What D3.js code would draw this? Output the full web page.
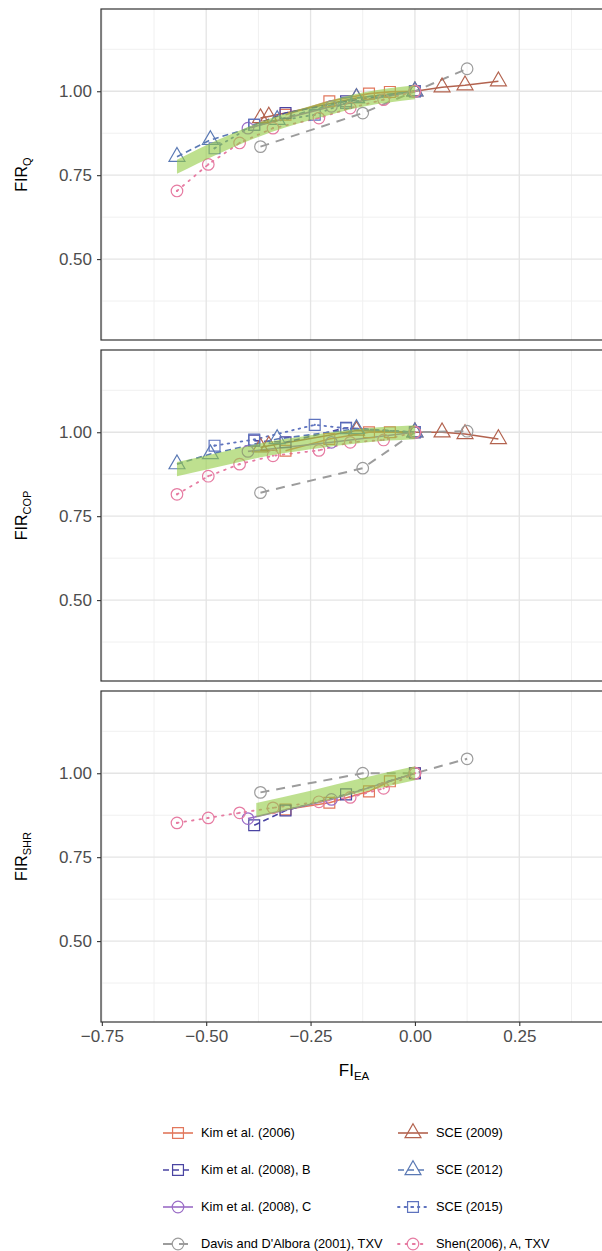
<!DOCTYPE html>
<html><head><meta charset="utf-8">
<script src="https://cdn.jsdelivr.net/npm/d3@7"></script>
<style>
body{margin:0;background:#fff}
svg{display:block;font-family:"Liberation Sans",Arial,Helvetica,sans-serif}
</style>
</head><body>
<svg id="c" width="602" height="1251"></svg>
<script>
// ---------------- DATA ----------------
const seriesNames = ["Kim et al. (2006)", "SCE (2009)", "Kim et al. (2008), B", "SCE (2012)",
  "Kim et al. (2008), C", "SCE (2015)", "Davis and D'Albora (2001), TXV", "Shen(2006), A, TXV"];
const panelSubs = ["Q", "COP", "SHR"];
const xTicks = [-0.75, -0.50, -0.25, 0.00, 0.25];
const yTicks = [0.50, 0.75, 1.00];

// FI_EA values for each series
const xKim2006  = [-0.31, -0.205, -0.11, -0.06, 0];
const xSCE2009  = [-0.37, -0.35, -0.14, 0, 0.065, 0.12, 0.20];
const xKim2008B = [-0.385, -0.31, -0.165, 0];
const xSCE2012  = [-0.57, -0.49, -0.33, -0.14, 0];
const xKim2008C = [-0.40, -0.20, 0];
const xSCE2015  = [-0.48, -0.385, -0.24, -0.165, 0];
const xDavis    = [-0.37, -0.125, 0, 0.125];
const xShen     = [-0.57, -0.495, -0.42, -0.34, -0.23, -0.155, -0.075, 0];

// FIR_Q
const qKim2006  = [0.93, 0.97, 0.993, 0.998, 1.0];
const qSCE2009  = [0.92, 0.925, 0.98, 1.0, 1.012, 1.018, 1.03];
const qKim2008B = [0.90, 0.935, 0.97, 1.0];
const qSCE2012  = [0.805, 0.855, 0.915, 0.98, 1.0];
const qKim2008C = [0.89, 0.955, 1.0];
const qSCE2015  = [0.83, 0.90, 0.93, 0.965, 1.0];
const qDavis    = [0.835, 0.935, 1.0, 1.067];
const qShen     = [0.703, 0.782, 0.846, 0.89, 0.92, 0.95, 0.975, 1.0];

// FIR_COP
const copKim2006  = [0.945, 0.98, 1.0, 1.0, 1.0];
const copSCE2009  = [0.955, 0.96, 1.005, 1.0, 1.0, 0.995, 0.98];
const copKim2008B = [0.975, 0.97, 1.013, 1.0];
const copSCE2012  = [0.905, 0.935, 0.98, 1.01, 1.0];
const copKim2008C = [0.943, 0.97, 1.0];
const copSCE2015  = [0.96, 0.978, 1.022, 1.012, 1.0];
const copDavis    = [0.82, 0.893, 1.0, 1.003];
const copShen     = [0.815, 0.869, 0.905, 0.93, 0.946, 0.97, 0.977, 1.0];

// FIR_SHR (SCE series not reported)
const shrKim2006  = [0.892, 0.912, 0.946, 0.976, 1.0];
const shrKim2008B = [0.845, 0.889, 0.937, 1.0];
const shrKim2008C = [0.865, 0.922, 1.0];
const shrDavis    = [0.943, 1.0, 1.0, 1.043];
const shrShen     = [0.852, 0.867, 0.882, 0.897, 0.915, 0.928, 0.955, 1.0];

// fitted trend band (centre line) per panel
const bandXQ   = [-0.57, -0.47, -0.375, -0.25, -0.125, 0];
const bandYQ   = [0.775, 0.835, 0.885, 0.935, 0.975, 0.997];
const bandXCOP = [-0.57, -0.47, -0.375, -0.25, -0.125, 0];
const bandYCOP = [0.89, 0.918, 0.945, 0.97, 0.99, 1.0];
const bandXSHR = [-0.38, -0.25, -0.125, 0];
const bandYSHR = [0.89, 0.927, 0.965, 1.0];
const bandHalf = 0.021;

// ---------------- STYLE ----------------
const styles = [
  {color:"#E2775C", dash:null,      shape:"square",    w:1.6},
  {color:"#B3634F", dash:null,      shape:"triangle",  w:1.6},
  {color:"#4A44A2", dash:"6,4",     shape:"square",    w:1.6},
  {color:"#5A79B4", dash:"6,4",     shape:"triangle",  w:1.6},
  {color:"#9A6CC6", dash:null,      shape:"circle",    w:1.6},
  {color:"#5E73BE", dash:"1.6,5",   shape:"squaredot", w:1.8},
  {color:"#9C9C9C", dash:"9,7",     shape:"circle",    w:2.0},
  {color:"#E67BA2", dash:"1.6,6",   shape:"circledot", w:1.8}
];

const seriesX = [xKim2006, xSCE2009, xKim2008B, xSCE2012, xKim2008C, xSCE2015, xDavis, xShen];
const seriesY = [
  [qKim2006, qSCE2009, qKim2008B, qSCE2012, qKim2008C, qSCE2015, qDavis, qShen],
  [copKim2006, copSCE2009, copKim2008B, copSCE2012, copKim2008C, copSCE2015, copDavis, copShen],
  [shrKim2006, null, shrKim2008B, null, shrKim2008C, null, shrDavis, shrShen]
];
const bands = [[bandXQ, bandYQ], [bandXCOP, bandYCOP], [bandXSHR, bandYSHR]];

// ---------------- LAYOUT ----------------
const svg = d3.select("#c");
const left = 101, right = 608;
const panels = [{top:9, bottom:340}, {top:350, bottom:681}, {top:691, bottom:1022}];
const x = d3.scaleLinear().domain([-0.752, 0.4625]).range([left, right]);
const tickCol = "#4d4d4d";

function symbolPath(shape) {
  if (shape === "triangle") return d3.symbol().type(d3.symbolTriangle).size(110)();
  if (shape.startsWith("square")) return d3.symbol().type(d3.symbolSquare).size(118)();
  return d3.symbol().type(d3.symbolCircle).size(105)();
}
function drawMarker(g, cx, cy, st) {
  g.append("path").attr("d", symbolPath(st.shape))
    .attr("transform", `translate(${cx},${cy})`)
    .attr("fill", "none").attr("stroke", st.color).attr("stroke-width", 1.2);
  if (st.shape.endsWith("dot")) {
    g.append("circle").attr("cx", cx).attr("cy", cy).attr("r", 1.1).attr("fill", st.color);
  }
}

panels.forEach((p, pi) => {
  const y = d3.scaleLinear().domain([0.259, 1.245]).range([p.bottom, p.top]);
  const g = svg.append("g");
  const clipId = "clip" + pi;
  svg.append("clipPath").attr("id", clipId).append("rect")
    .attr("x", left).attr("y", p.top).attr("width", right - left).attr("height", p.bottom - p.top);
  const inner = g.append("g").attr("clip-path", `url(#${clipId})`);

  // minor grid
  const xMinor = d3.range(-0.625, 0.46, 0.25);
  const yMinor = [0.375, 0.625, 0.875, 1.125];
  inner.selectAll(".xm").data(xMinor).join("line")
    .attr("x1", d => x(d)).attr("x2", d => x(d)).attr("y1", p.top).attr("y2", p.bottom)
    .attr("stroke", "#f0f0f0").attr("stroke-width", 1);
  inner.selectAll(".ym").data(yMinor).join("line")
    .attr("x1", left).attr("x2", right).attr("y1", d => y(d)).attr("y2", d => y(d))
    .attr("stroke", "#f0f0f0").attr("stroke-width", 1);
  // major grid
  inner.selectAll(".xM").data(xTicks).join("line")
    .attr("x1", d => x(d)).attr("x2", d => x(d)).attr("y1", p.top).attr("y2", p.bottom)
    .attr("stroke", "#e4e4e4").attr("stroke-width", 1.3);
  inner.selectAll(".yM").data(yTicks).join("line")
    .attr("x1", left).attr("x2", right).attr("y1", d => y(d)).attr("y2", d => y(d))
    .attr("stroke", "#e4e4e4").attr("stroke-width", 1.3);

  // series lines
  const line = d3.line().x(d => x(d[0])).y(d => y(d[1]));
  seriesX.forEach((xs, si) => {
    const ys = seriesY[pi][si];
    if (!ys) return;
    const pts = xs.map((v, i) => [v, ys[i]]);
    const st = styles[si];
    inner.append("path").attr("d", line(pts)).attr("fill", "none")
      .attr("stroke", st.color).attr("stroke-width", st.w)
      .attr("stroke-dasharray", st.dash).attr("stroke-linecap", st.dash && st.dash.startsWith("1.") ? "round" : "butt");
  });
  // points
  seriesX.forEach((xs, si) => {
    const ys = seriesY[pi][si];
    if (!ys) return;
    xs.forEach((v, i) => drawMarker(inner, x(v), y(ys[i]), styles[si]));
  });
  // trend band
  const [bx, by] = bands[pi];
  const bpts = bx.map((v, i) => [v, by[i]]);
  const area = d3.area().curve(d3.curveMonotoneX)
    .x(d => x(d[0])).y0(d => y(d[1] - bandHalf)).y1(d => y(d[1] + bandHalf));
  inner.append("path").attr("d", area(bpts)).attr("fill", "#92cc45").attr("opacity", 0.6);

  // border
  g.append("rect").attr("x", left).attr("y", p.top).attr("width", right - left).attr("height", p.bottom - p.top)
    .attr("fill", "none").attr("stroke", "#333").attr("stroke-width", 1.2);

  // y axis
  const ya = g.append("g").attr("transform", `translate(${left},0)`)
    .call(d3.axisLeft(y).tickValues(yTicks).tickFormat(d3.format(".2f")).tickSize(4).tickPadding(5));
  ya.select(".domain").remove();
  ya.selectAll("line").attr("stroke", "#333").attr("stroke-width", 1.1);
  ya.selectAll("text").attr("fill", tickCol).style("font-size", "17px").attr("font-family", null);

  // y title
  const t = g.append("text").attr("transform", `translate(27,${(p.top + p.bottom) / 2}) rotate(-90)`)
    .attr("text-anchor", "middle").style("font-size", "16px").attr("fill", "#000");
  t.append("tspan").text("FIR");
  t.append("tspan").text(panelSubs[pi]).style("font-size", "11px").attr("dy", 4);

  // x axis on last panel
  if (pi === panels.length - 1) {
    const xa = g.append("g").attr("transform", `translate(0,${p.bottom})`)
      .call(d3.axisBottom(x).tickValues(xTicks).tickFormat(d => d3.format(".2f")(d).replace("-", "\u2212")).tickSize(4).tickPadding(4));
    xa.select(".domain").remove();
    xa.selectAll("line").attr("stroke", "#333").attr("stroke-width", 1.1);
    xa.selectAll("text").attr("fill", tickCol).style("font-size", "17px").attr("font-family", null);
  }
});

// x title
const xt = svg.append("text").attr("x", 354).attr("y", 1076).attr("text-anchor", "middle")
  .style("font-size", "17px").attr("fill", "#000");
xt.append("tspan").text("FI");
xt.append("tspan").text("EA").style("font-size", "11.5px").attr("dy", 4);

// legend
const legRowY = [1133, 1170, 1207, 1244];
const legCols = [{kx:178, tx:201}, {kx:413, tx:436}];
seriesNames.forEach((name, i) => {
  const col = legCols[i % 2], row = Math.floor(i / 2);
  const cy = legRowY[row];
  const st = styles[i];
  const lg = svg.append("g");
  lg.append("line").attr("x1", col.kx - 15).attr("x2", col.kx + 15).attr("y1", cy).attr("y2", cy)
    .attr("stroke", st.color).attr("stroke-width", st.w).attr("stroke-dasharray", st.dash)
    .attr("stroke-linecap", st.dash && st.dash.startsWith("1.") ? "round" : "butt");
  drawMarker(lg, col.kx, cy, st);
  lg.append("text").attr("x", col.tx).attr("y", cy).attr("dy", "0.35em")
    .style("font-size", "12.8px").attr("fill", "#000").text(name);
});
</script>
</body></html>
